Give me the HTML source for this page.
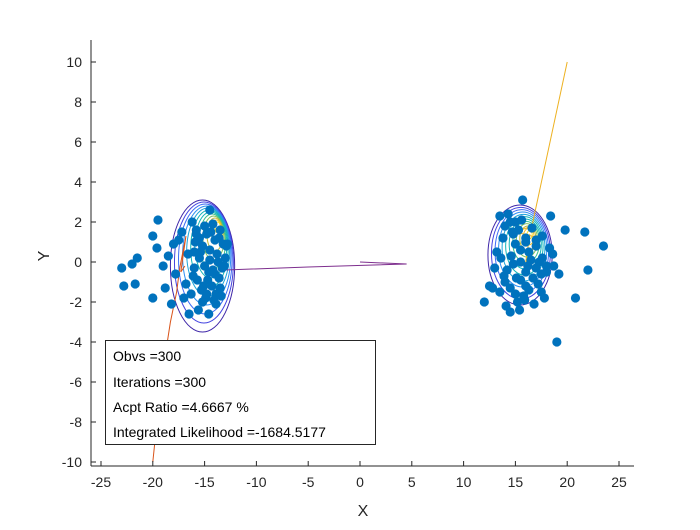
<!DOCTYPE html>
<html><head><meta charset="utf-8"><style>
body{margin:0;background:#fff;width:700px;height:525px;overflow:hidden}
svg text{font-family:"Liberation Sans",Arial,sans-serif}
</style></head><body>
<svg id="c" width="700" height="525" xmlns="http://www.w3.org/2000/svg">
<rect width="700" height="525" fill="#fff"/>
<g id="contours"></g>
<g id="lines"></g>
<g id="pts"></g>
<g id="axes"></g>
</svg>
<script>
const xTicks=[-25,-20,-15,-10,-5,0,5,10,15,20,25];
const yTicks=[-10,-8,-6,-4,-2,0,2,4,6,8,10];
const ptsX=[-19.5,-20,-19.6,-21.5,-22,-23,-21.7,-22.8,-20,-18.2,-17,-16.5,-14.5,-17.2,-18,-18.5,-17.8,-16.8,-19,-18.8,-17.5,-16.2,-15.8,-15.5,-15.2,-15,-14.8,-14.5,-14.2,-14,-13.8,-13.5,-13.2,-13,-12.8,-16,-15.7,-15.3,-14.9,-14.6,-14.3,-13.9,-13.6,-13.3,-15.5,-15,-14.5,-14,-13.5,-16,-15.2,-14.7,-14.1,-13.7,-16.3,-15.6,-14.4,-13.4,-15.9,-15.1,-14.2,-13.1,-16.6,-16.1,-15.4,-14.8,-13.9,-12.9,-15.8,-14.6,-13.6,
13.5,14.3,15.7,18.4,19.8,21.7,23.5,22,20.8,19,12.5,12,13.5,14.5,13,17.5,18,18.7,12.8,13.2,13.8,14,14.5,14.8,15,15.3,15.6,16,16.3,16.6,17,17.3,17.6,18,18.3,14.2,14.6,15.1,15.5,16,16.5,17,17.5,14,14.5,15,15.5,16,16.7,17.2,15.2,15.8,16.3,14.8,15.5,16.2,17.8,13.6,14.1,18.6,19.2,15,16,17,14.7,15.4,16.8,13.9,17.6,15.9];
const ptsY=[2.1,1.3,0.7,0.2,-0.1,-0.3,-1.1,-1.2,-1.8,-2.1,-1.8,-2.6,2.6,1.5,0.9,0.3,-0.6,-1.1,-0.2,-1.3,1.1,2,1.6,1.2,0.8,1.8,1.4,0.6,1.9,1.1,0.4,1.6,0.9,0.2,0.9,-0.3,-0.9,-1.4,-1.8,-0.5,-1.2,-1.6,-0.8,-0.3,0.2,-0.2,0.1,-0.6,-1.3,0.5,-2,-0.9,-1.9,0,-1.6,-2.4,1.5,-1.7,1,-1.2,-0.4,-0.2,0.4,-0.7,0.5,-1.6,-2.1,0.8,1.4,-2.6,1.2,
2.3,2.4,3.1,2.3,1.6,1.5,0.8,-0.4,-1.8,-4,-1.2,-2,-1.5,-2.5,-0.3,-1.5,-0.5,-0.2,-1.3,0.5,1.2,1.8,2,1.4,0.9,1.6,2.1,1.2,0.5,1.7,0.8,0,1.3,-0.2,0.7,-0.4,0.3,-0.8,0,-0.5,0.1,-0.3,-0.6,-1,-1.3,-1.6,-0.9,-1.2,-0.8,-1.1,-2,-1.7,-1.4,-0.1,0.6,-0.2,-1.8,0.2,-2.2,0.4,-0.6,2,1,1.1,1.5,-2.4,-2.1,-0.7,0.2,-1.9];
const orangeX=[-20,-19.2,-18.3,-17.7,-17.4,-17.1,-16.8,-17.3,-16.9];
const orangeY=[-10,-6,-3,-1.5,-0.3,0.5,1.3,-0.5,-0.2];
const purpleX=[-13,-5,4.5,0];
const purpleY=[-0.4,-0.25,-0.1,0];
const yellowX=[20,16.6,15,17.3,16,16.4];
const yellowY=[10,1.8,1.5,1.2,0,1.4];
const X0=91,X1=634,Y0=40,Y1=466;
const xs=v=>360+v*10.36, ys=v=>262-v*20;
const NS='http://www.w3.org/2000/svg';
function mk(t,a,p){const e=document.createElementNS(NS,t);for(const k in a)e.setAttribute(k,a[k]);p.appendChild(e);return e;}
const par=['#3e26a8','#4444e0','#3b6cf5','#2b8ef2','#1ea5d9','#12b5b8','#38c08e','#7fc25a','#c2ba36','#f4c12c','#f9e01f'];
const cg=document.getElementById('contours');
function cont(cx,cy,rx,ry,sx,sy,n,nm){
 for(let i=0;i<n;i++){const f=1-i/n;const e=mk('ellipse',{cx:xs(cx+sx*(1-f)),cy:ys(cy+sy*(1-f)),rx:rx*f*10.36,ry:ry*f*20,fill:'none',stroke:par[Math.min(10,Math.round(i*10/(n-1)))],'stroke-width':1},cg);
 
 }
}
cont(-15.2,-0.2,3.1,3.3,1.6,2.1,12,'left-contour');
cont(15.45,0.35,3.1,2.5,1.0,1.1,12,'right-contour');
const lg=document.getElementById('lines');
function pl(X,Y,c,nm){const e=mk('polyline',{points:X.map((x,i)=>xs(x)+','+ys(Y[i])).join(' '),fill:'none',stroke:c,'stroke-width':1},lg);
 
 }
pl(orangeX,orangeY,'#d95319','orange-chain');
pl(purpleX,purpleY,'#7e2f8e','purple-chain');
pl(yellowX,yellowY,'#edb120','yellow-chain');
const pg=document.getElementById('pts');
ptsX.forEach((x,i)=>{const e=mk('circle',{cx:xs(x),cy:ys(ptsY[i]),r:4.6,fill:'#0072bd'},pg);
 
 });
const ag=document.getElementById('axes');
mk('line',{x1:X0,y1:Y1,x2:X1,y2:Y1,stroke:'#262626'},ag);
mk('line',{x1:X0,y1:Y0,x2:X0,y2:Y1,stroke:'#262626'},ag);
xTicks.forEach(t=>{mk('line',{x1:xs(t),x2:xs(t),y1:Y1,y2:Y1-5,stroke:'#262626'},ag);
 const e=mk('text',{x:xs(t),y:Y1+21,'text-anchor':'middle','font-size':14,fill:'#262626'},ag);e.textContent=t;
 
 });
yTicks.forEach(t=>{mk('line',{x1:X0,x2:X0+5,y1:ys(t),y2:ys(t),stroke:'#262626'},ag);
 const e=mk('text',{x:X0-9,y:ys(t)+5,'text-anchor':'end','font-size':14,fill:'#262626'},ag);e.textContent=t;
 
 });
</script>
<svg style="position:absolute;left:0;top:0" width="700" height="525" xmlns="http://www.w3.org/2000/svg">
<text x="363" y="516" text-anchor="middle" font-size="16" fill="#262626">X</text>
<text x="49" y="256" text-anchor="middle" font-size="16" fill="#262626" transform="rotate(-90 49 256)">Y</text>
<g>
<rect x="105.5" y="340.5" width="270" height="104" fill="#fff" stroke="#262626"/>
<text x="113" y="361" font-size="14" fill="#000">Obvs =300</text>
<text x="113" y="387" font-size="14" fill="#000">Iterations =300</text>
<text x="113" y="412" font-size="14" fill="#000">Acpt Ratio =4.6667 %</text>
<text x="113" y="437" font-size="14" fill="#000">Integrated Likelihood =-1684.5177</text>
</g>
</svg>
</body></html>
